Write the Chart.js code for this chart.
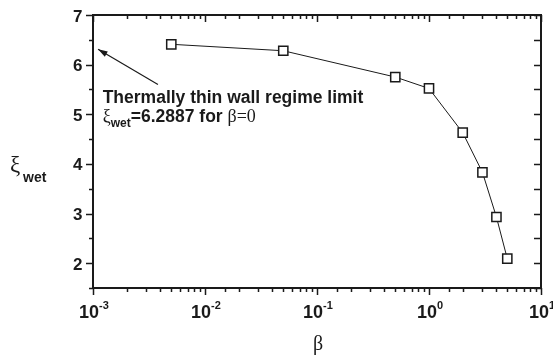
<!DOCTYPE html>
<html><head><meta charset="utf-8">
<script src="https://cdn.jsdelivr.net/npm/chart.js@4/dist/chart.umd.min.js"></script>
<style>html,body{margin:0;padding:0;background:#fff}#w{width:553px;height:360px}</style>
</head><body><div id="w"><canvas id="c" width="553" height="360"></canvas></div>
<script>
const betaValues = [0.005, 0.05, 0.5, 1, 2, 3, 4, 5];
const xiValues = [6.41, 6.28, 5.75, 5.52, 4.63, 3.83, 2.93, 2.09];
const xTickExponents = ['-3', '-2', '-1', '0', '1'];
const yTickLabels = ['2', '3', '4', '5', '6', '7'];
const annotationLines = ['Thermally thin wall regime limit', '=6.2887 for '];
const arrowTip = [0.00111, 6.31];
const arrowTail = [0.0038, 5.6];
const textAnchor = [0.00122, 5.218, 4.835];

const INK = '#1a1a1a';
const SANS = '"Liberation Sans", Arial, sans-serif';
const SERIF = '"Liberation Serif", "DejaVu Serif", serif';

const isMajorLog = v => Math.abs(Math.log10(v) - Math.round(Math.log10(v))) < 1e-9;

const framePlugin = {
  id: 'frame',
  afterDraw(chart) {
    const ctx = chart.ctx, a = chart.chartArea;
    const xs = chart.scales.x, ys = chart.scales.y;
    ctx.save();
    ctx.strokeStyle = INK; ctx.fillStyle = INK;
    // ticks
    ctx.lineWidth = 1.5;
    ctx.beginPath();
    xs.ticks.forEach(t => {
      const px = Math.round(xs.getPixelForValue(t.value)) + 0.5;
      const maj = isMajorLog(t.value);
      const L = maj ? 7 : 4;
      ctx.moveTo(px, a.bottom); ctx.lineTo(px, a.bottom + L);
      ctx.moveTo(px, a.top); ctx.lineTo(px, a.top + L);
    });
    ys.ticks.forEach(t => {
      const py = Math.round(ys.getPixelForValue(t.value)) + 0.5;
      const maj = Math.abs(t.value - Math.round(t.value)) < 1e-9;
      const L = maj ? 7 : 4;
      ctx.moveTo(a.left, py); ctx.lineTo(a.left - L, py);
      ctx.moveTo(a.right, py); ctx.lineTo(a.right - 7, py);
    });
    ctx.stroke();
    // frame
    ctx.lineWidth = 2;
    ctx.strokeRect(a.left, a.top, a.right - a.left, a.bottom - a.top);
    // y tick labels
    ctx.font = 'bold 17px ' + SANS;
    ctx.textAlign = 'right'; ctx.textBaseline = 'alphabetic';
    yTickLabels.forEach(l => {
      const py = ys.getPixelForValue(Number(l));
      ctx.fillText(l, a.left - 10.5, py + 6.5);
    });
    // x tick labels 10^n
    xTickExponents.forEach(e => {
      const px = xs.getPixelForValue(Math.pow(10, Number(e)));
      ctx.font = 'bold 18px ' + SANS;
      const wb = ctx.measureText('10').width;
      ctx.font = 'bold 11px ' + SANS;
      const we = ctx.measureText(e).width;
      const x0 = px - (wb + we) / 2 + 1;
      ctx.font = 'bold 18px ' + SANS;
      ctx.textAlign = 'left';
      ctx.fillText('10', x0, a.bottom + 30);
      ctx.font = 'bold 11px ' + SANS;
      ctx.fillText(e, x0 + wb, a.bottom + 21);
    });
    // axis titles
    ctx.font = '20px ' + SERIF;
    ctx.textAlign = 'center';
    ctx.fillText('\u03B2', xs.getPixelForValue(0.102), 350);
    ctx.textAlign = 'left';
    ctx.font = '23px ' + SERIF;
    ctx.fillText('\u03BE', 10, 172);
    ctx.font = 'bold 14px ' + SANS;
    ctx.fillText('wet', 23, 182);
    // annotation arrow
    const tx = xs.getPixelForValue(arrowTip[0]), ty = ys.getPixelForValue(arrowTip[1]);
    const sx = xs.getPixelForValue(arrowTail[0]), sy = ys.getPixelForValue(arrowTail[1]);
    ctx.lineWidth = 1.2;
    ctx.beginPath(); ctx.moveTo(sx, sy); ctx.lineTo(tx, ty); ctx.stroke();
    const ang = Math.atan2(ty - sy, tx - sx), hl = 10, hw = 0.3;
    ctx.beginPath();
    ctx.moveTo(tx, ty);
    ctx.lineTo(tx - hl * Math.cos(ang - hw), ty - hl * Math.sin(ang - hw));
    ctx.lineTo(tx - hl * Math.cos(ang + hw), ty - hl * Math.sin(ang + hw));
    ctx.closePath(); ctx.fill();
    // annotation text
    const ax = xs.getPixelForValue(textAnchor[0]);
    const ay1 = ys.getPixelForValue(textAnchor[1]);
    const ay2 = ys.getPixelForValue(textAnchor[2]);
    ctx.font = 'bold 17.5px ' + SANS;
    ctx.fillText(annotationLines[0], ax, ay1);
    let cx = ax;
    ctx.font = '18px ' + SERIF;
    ctx.fillText('\u03BE', cx, ay2); cx += ctx.measureText('\u03BE').width;
    ctx.font = 'bold 12px ' + SANS;
    ctx.fillText('wet', cx, ay2 + 5); cx += ctx.measureText('wet').width;
    ctx.font = 'bold 17.5px ' + SANS;
    ctx.fillText(annotationLines[1], cx, ay2); cx += ctx.measureText(annotationLines[1]).width;
    ctx.font = '18px ' + SERIF;
    ctx.fillText('\u03B2=0', cx, ay2);
    ctx.restore();
  }
};

new Chart(document.getElementById('c'), {
  type: 'line',
  data: {
    datasets: [{
      data: betaValues.map((b, i) => ({ x: b, y: xiValues[i] })),
      borderColor: INK,
      borderWidth: 1,
      pointStyle: 'rect',
      pointRadius: 6.5,
      pointBorderWidth: 1.5,
      pointBackgroundColor: '#fff',
      pointBorderColor: INK,
      tension: 0
    }]
  },
  options: {
    responsive: false,
    animation: false,
    devicePixelRatio: 1,
    layout: { padding: { left: 0, right: 12, top: 15, bottom: 0 } },
    plugins: { legend: { display: false }, tooltip: { enabled: false } },
    scales: {
      x: {
        type: 'logarithmic', min: 0.001, max: 10,
        grid: { display: false }, border: { display: false },
        ticks: { display: false },
        afterFit(s) { s.height = 72; }
      },
      y: {
        type: 'linear', min: 1.5, max: 7,
        grid: { display: false }, border: { display: false },
        ticks: { display: false, stepSize: 0.5 },
        afterFit(s) { s.width = 93; }
      }
    }
  },
  plugins: [framePlugin]
});
</script>
</body></html>
